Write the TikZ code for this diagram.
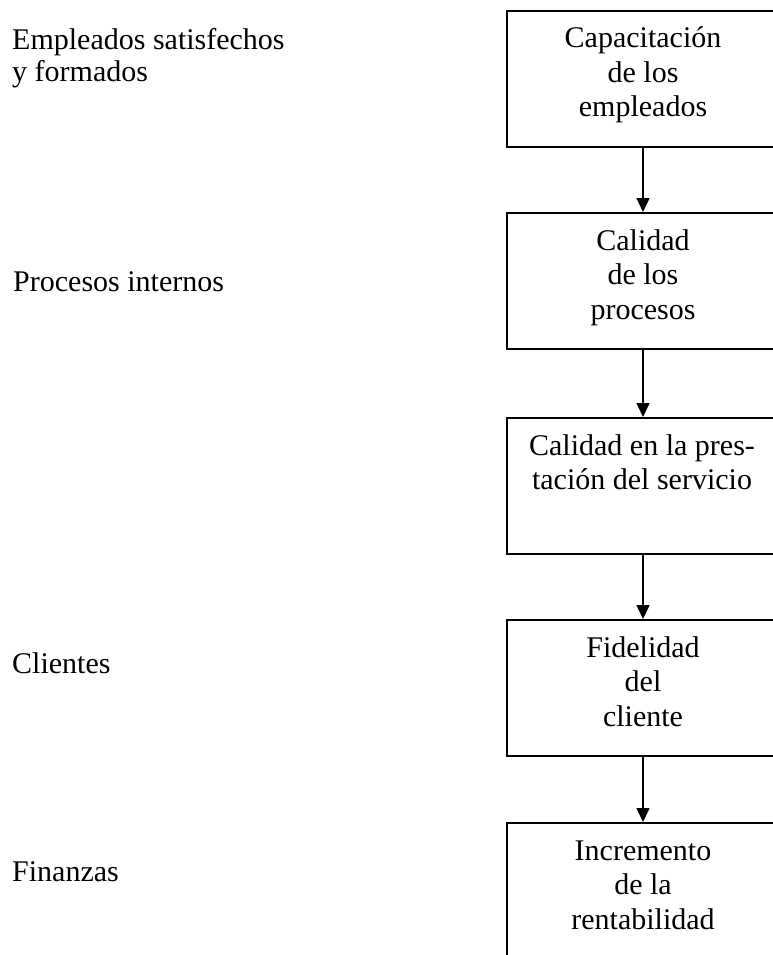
\documentclass[tikz,border=0pt]{standalone}
\usepackage{fontspec}
\setmainfont{Liberation Serif}
\usetikzlibrary{arrows.meta}
\begin{document}
\begin{tikzpicture}[x=1pt,y=-1pt,
  box/.style={draw,line width=1.6pt,minimum width=272pt,minimum height=136pt,anchor=north,inner sep=0pt},
  boxtext/.style={anchor=base,inner sep=0pt,font=\fontsize{30}{34.5}\selectfont},
  lbl/.style={anchor=base west,inner sep=0pt,font=\fontsize{30}{32}\selectfont},
  arr/.style={line width=1.5pt,-{Triangle[width=13pt,length=14pt]}}]
\useasboundingbox (0,0) rectangle (773,955);
\clip (0,0) rectangle (773,955);
% boxes
\node[box] (b1) at (643,10) {};
\node[box] (b2) at (643,212) {};
\node[box] (b3) at (643,417) {};
\node[box] (b4) at (643,619) {};
\node[box] (b5) at (643,822) {};
% box texts
\node[boxtext] (t1) at (643,48) {\begin{tabular}[t]{@{}c@{}}Capacitación\\de los\\empleados\end{tabular}};
\node[boxtext] (t2) at (643,250) {\begin{tabular}[t]{@{}c@{}}Calidad\\de los\\procesos\end{tabular}};
\node[boxtext] (t3) at (642,455) {\begin{tabular}[t]{@{}c@{}}Calidad en la pres-\\tación del servicio\end{tabular}};
\node[boxtext] (t4) at (643,657) {\begin{tabular}[t]{@{}c@{}}Fidelidad\\del\\cliente\end{tabular}};
\node[boxtext] (t5) at (643,860) {\begin{tabular}[t]{@{}c@{}}Incremento\\de la\\rentabilidad\end{tabular}};
% arrows
\draw[arr] (b1.south) -- (b2.north);
\draw[arr] (b2.south) -- (b3.north);
\draw[arr] (b3.south) -- (b4.north);
\draw[arr] (b4.south) -- (b5.north);
% left labels
\node[lbl] (l1) at (12,50) {\begin{tabular}[t]{@{}l@{}}Empleados satisfechos\\y formados\end{tabular}};
\node[lbl] (l2) at (13,291) {Procesos internos};
\node[lbl] (l3) at (12,673) {Clientes};
\node[lbl] (l4) at (12,881) {Finanzas};
\end{tikzpicture}
\end{document}
